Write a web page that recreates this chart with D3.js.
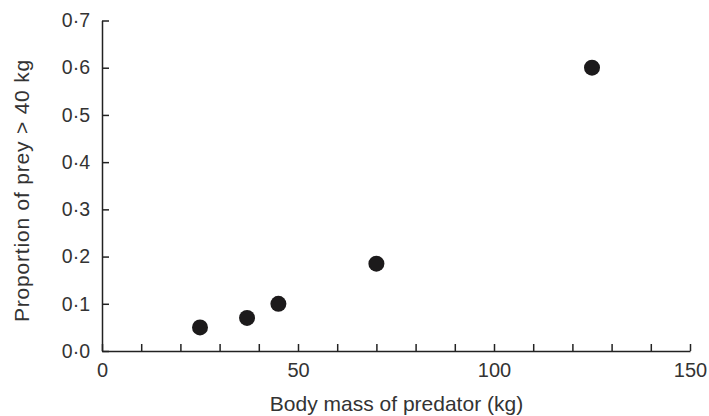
<!DOCTYPE html>
<html lang="en">
<head>
    <meta charset="UTF-8">
    <title>Prey size</title>
    <script src="https://d3js.org/d3.v7.min.js"></script>
    <style>
        body { margin: 0; background: #fff; }
        text {
            font-family: 'Liberation Sans', Arial, sans-serif;
            fill: #333;
        }
        .domain, .tick line { stroke: #222; stroke-width: 1.5; }
    </style>
</head>
<body>
<script>

    const width  = 709;
    const height = 416;

    // body mass of predator (kg) vs proportion of prey > 40 kg
    const bodyMass   = [25, 37, 45, 70, 125];
    const proportion = [0.05, 0.07, 0.10, 0.185, 0.60];

    const xTicks = [0, 10, 20, 30, 40, 50, 60, 70, 80, 90, 100, 110, 120, 130, 140, 150];
    const xLabels = [0, 50, 100, 150];
    const yTicks = [0, 0.1, 0.2, 0.3, 0.4, 0.5, 0.6, 0.7];

    const x = d3.scaleLinear().domain([0, 150]).range([102, 690]);
    const y = d3.scaleLinear().domain([0, 0.7]).range([351, 20.5]);

    const svg = d3.select("body")
            .append("svg")
            .attr("width", width)
            .attr("height", height);

    const xAxis = d3.axisBottom(x)
            .tickValues(xTicks)
            .tickSizeInner(-7)
            .tickSizeOuter(0)
            .tickPadding(12)
            .tickFormat(d => xLabels.includes(d) ? d : "");

    const gx = svg.append("g")
            .attr("transform", "translate(0," + y(0) + ")")
            .call(xAxis);

    const yAxis = d3.axisLeft(y)
            .tickValues(yTicks)
            .tickSizeInner(-7)
            .tickSizeOuter(0)
            .tickPadding(12)
            .tickFormat(d => d.toFixed(1).replace(".", "\u00b7"));

    const gy = svg.append("g")
            .attr("transform", "translate(" + x(0) + ",0)")
            .call(yAxis);

    gx.selectAll("text").style("font-size", "20px").style("fill", "#333");
    gy.selectAll("text").style("font-size", "19.5px").style("fill", "#333");

    svg.selectAll(".dot")
            .data(bodyMass)
            .enter()
            .append("circle").attr("class", "dot")
            .attr("cx", d => x(d))
            .attr("cy", (d, i) => y(proportion[i]))
            .attr("r", 8)
            .style("fill", "#1c1a1b");

    svg.append("text")
            .text("Body mass of predator (kg)")
            .attr("x", 396.5)
            .attr("y", 411)
            .attr("text-anchor", "middle")
            .style("font-size", "21px");

    svg.append("text")
            .text("Proportion of prey > 40 kg")
            .attr("transform", "translate(29,190.5) rotate(-90)")
            .attr("text-anchor", "middle")
            .style("font-size", "21px")
            .style("letter-spacing", "0.8px");

</script>
</body>
</html>
